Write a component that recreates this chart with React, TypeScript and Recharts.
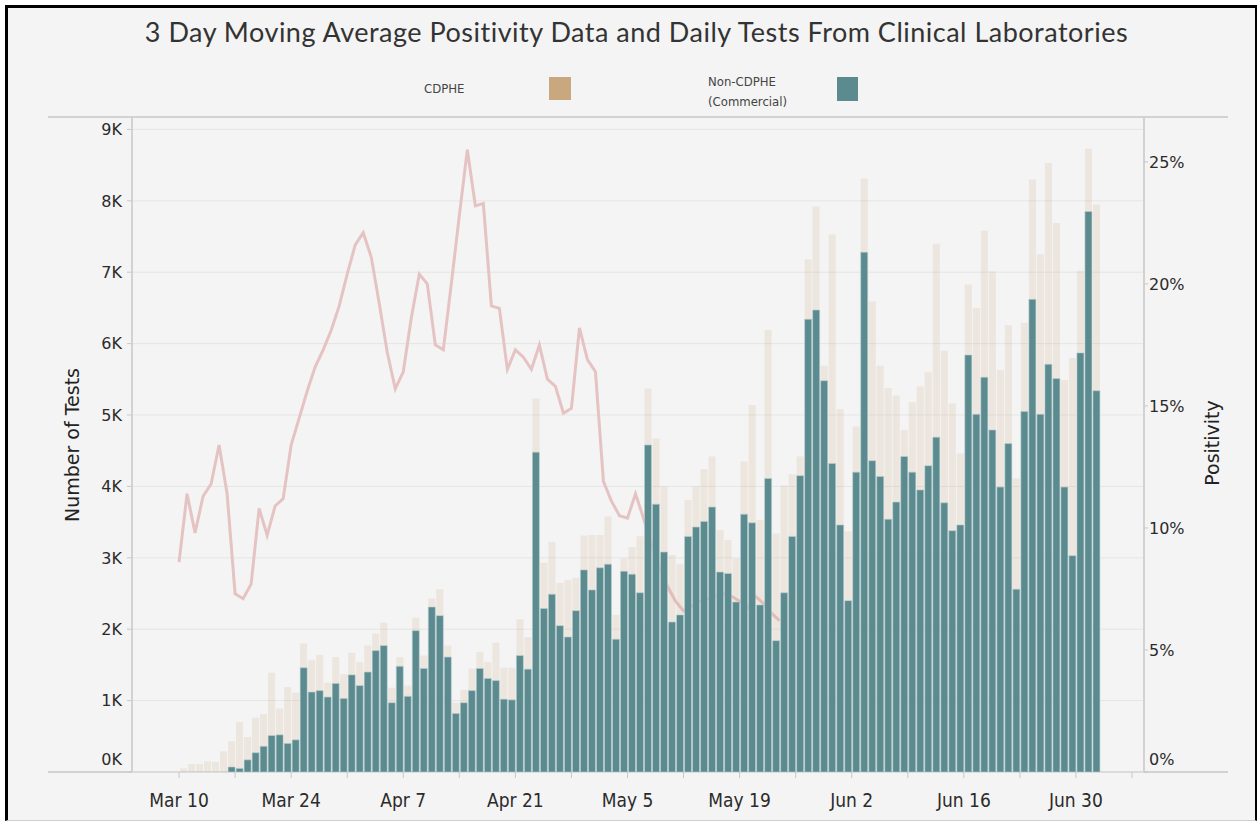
// 3 day moving average positivity + daily tests (CDPHE vs commercial labs)
// Stacked daily bars on the left axis, positivity line on the right axis.
// Line sits behind the bars, like the Tableau original.

import React from "react";
import {
  ComposedChart,
  Bar,
  Line,
  XAxis,
  YAxis,
  CartesianGrid,
} from "recharts";

// first day of the series is Mar 10 (day 0)
const START_MONTH = 2; // March (0-based)
const START_DAY = 10;

// Non-CDPHE (commercial) tests per day, Mar 10 .. Jul 2
const nonCdpheTests = [
  0, 0, 0, 0, 0, 0, 70, 50, 170, 270,
  360, 510, 520, 400, 450, 1460, 1120, 1140, 1050, 1240,
  1030, 1360, 1210, 1400, 1700, 1770, 970, 1480, 1060, 1980,
  1450, 2310, 2190, 1610, 820, 970, 1140, 1450, 1310, 1280,
  1020, 1010, 1630, 1440, 4480, 2290, 2490, 2050, 1890, 2260,
  2830, 2550, 2860, 2910, 1860, 2810, 2770, 2510, 4580, 3750,
  3080, 2100, 2200, 3300, 3430, 3510, 3710, 2800, 2780, 2380,
  3610, 3490, 2340, 4110, 1840, 2510, 3300, 4150, 6340, 6470,
  5480, 4320, 3460, 2400, 4200, 7280, 4360, 4140, 3540, 3780,
  4420, 4200, 3950, 4290, 4690, 3770, 3380, 3460, 5840, 5010,
  5530, 4790, 3990, 4600, 2560, 5050, 6620, 5010, 5710, 5510,
  3990, 3030, 5870, 7850, 5340,
];

// CDPHE tests per day (stacked on top of the commercial bar)
const cdpheTests = [
  50, 110, 110, 150, 140, 290, 360, 650, 320, 490,
  450, 880, 370, 790, 660, 340, 450, 500, 200, 370,
  340, 310, 330, 370, 240, 320, 210, 130, 150, 180,
  180, 120, 370, 160, 150, 180, 310, 230, 230, 530,
  440, 450, 510, 450, 750, 640, 730, 600, 800, 460,
  480, 770, 460, 670, 340, 180, 380, 790, 790, 920,
  920, 940, 710, 510, 570, 730, 710, 590, 470, 610,
  740, 1650, 1190, 2080, 1500, 1500, 870, 270, 840, 1450,
  210, 3210, 1620, 970, 640, 1030, 2230, 1550, 1840, 1490,
  370, 980, 1450, 1310, 2710, 2130, 1780, 1000, 990, 1490,
  2050, 2220, 1640, 1660, 1550, 1240, 1680, 2240, 2820, 2180,
  1500, 2770, 1150, 880, 2610,
];

// 3 day moving average positivity (%), readable up to ~May 25,
// after that it disappears behind the bars
const positivity = [
  8.6, 11.4, 9.8, 11.3, 11.8, 13.4, 11.4, 7.3, 7.1, 7.7,
  10.8, 9.7, 10.9, 11.2, 13.4, 14.5, 15.6, 16.6, 17.3, 18.1,
  19.1, 20.4, 21.6, 22.1, 21.1, 19.2, 17.2, 15.7, 16.4, 18.6,
  20.4, 20.0, 17.5, 17.3, 20.0, 22.8, 25.5, 23.2, 23.3, 19.1,
  19.0, 16.5, 17.3, 17.0, 16.5, 17.5, 16.1, 15.8, 14.7, 14.9,
  18.2, 16.9, 16.4, 11.9, 11.1, 10.5, 10.4, 11.4, 10.4, 9.3,
  8.4, 7.6, 7.0, 6.6, 6.8, 7.0, 7.1, 7.2, 7.3, 7.2,
  7.0, 6.7, 7.2, 6.9, 6.5, 6.2,
];

const xTickLabels = [
  "Mar 10", "Mar 24", "Apr 7", "Apr 21", "May 5",
  "May 19", "Jun 2", "Jun 16", "Jun 30",
];
const testTicks = [0, 1000, 2000, 3000, 4000, 5000, 6000, 7000, 8000, 9000];
const positivityTicks = [0, 5, 10, 15, 20, 25];

const MONTHS = ["Jan", "Feb", "Mar", "Apr", "May", "Jun", "Jul"];

const data = nonCdpheTests.map((v, i) => {
  const dt = new Date(2020, START_MONTH, START_DAY + i);
  return {
    day: i,
    date: `${MONTHS[dt.getMonth()]} ${dt.getDate()}`,
    nonCdphe: v,
    cdphe: cdpheTests[i],
    positivity: i < positivity.length ? positivity[i] : null,
  };
});

// weekly ticks, labels only every second week
const weekTicks = Array.from({ length: 18 }, (_, i) => i * 7);

const FONT = "'DejaVu Sans', Verdana, sans-serif";
const NARROW = "'Liberation Sans Narrow', 'DejaVu Sans Condensed', 'Noto Sans', sans-serif";
const TEAL = "#5b8b8f";
const TAN = "#c9a77f";
const FRAME = "#d2d2d2";

function LeftTick({ x, y, payload }: any) {
  const shift = payload.value === 0 ? -13 : 0;
  return (
    <text x={x} y={y + shift} dy="0.36em" textAnchor="end" fill="#2b2b2b" fontSize={16} fontFamily={FONT}>
      {`${payload.value / 1000}K`}
    </text>
  );
}

function RightTick({ x, y, payload }: any) {
  const shift = payload.value === 0 ? -13 : 0;
  return (
    <text x={x} y={y + shift} dy="0.36em" textAnchor="start" fill="#2b2b2b" fontSize={16} fontFamily={FONT}>
      {`${payload.value}%`}
    </text>
  );
}

// labels sit at a fixed baseline below the pane
function BottomTick({ x, payload, index }: any) {
  if (index % 2 !== 0) return null;
  return (
    <text x={x} y={807} textAnchor="middle" fill="#2b2b2b" fontSize={19} fontFamily={NARROW}>
      {xTickLabels[index / 2] ?? payload.value}
    </text>
  );
}

export default function App() {
  return (
    <div style={{ position: "absolute", left: 0, top: 0, width: 1257, height: 823, background: "#fff" }}>
      {/* outer frame */}
      <div
        style={{
          position: "absolute",
          left: 5,
          top: 5,
          width: 1252,
          height: 816,
          boxSizing: "border-box",
          borderTop: "3px solid #000",
          borderLeft: "3px solid #000",
          borderRight: "2px solid #000",
          borderBottom: "1px solid #cfcfcf",
          background: "#f4f4f4",
        }}
      />

      {/* title */}
      <div
        style={{
          position: "absolute",
          left: 8,
          top: 15,
          width: 1257,
          textAlign: "center",
          fontFamily: "Lato, 'Open Sans', sans-serif",
          fontSize: 27,
          letterSpacing: 0.5,
          color: "#333",
          whiteSpace: "nowrap",
        }}
      >
        3 Day Moving Average Positivity Data and Daily Tests From Clinical Laboratories
      </div>

      {/* legend */}
      <div style={{ position: "absolute", left: 424, top: 81, fontFamily: NARROW, fontSize: 13, color: "#444" }}>
        CDPHE
      </div>
      <div style={{ position: "absolute", left: 549, top: 77, width: 22, height: 23, background: TAN }} />
      <div
        style={{
          position: "absolute",
          left: 708,
          top: 72,
          fontFamily: NARROW,
          fontSize: 13,
          lineHeight: "20px",
          color: "#444",
        }}
      >
        Non-CDPHE
        <br />
        (Commercial)
      </div>
      <div style={{ position: "absolute", left: 837, top: 77, width: 21, height: 24, background: TEAL }} />

      {/* pane borders top / bottom */}
      <div style={{ position: "absolute", left: 48, top: 116, width: 1180, height: 2, background: FRAME }} />
      <div style={{ position: "absolute", left: 48, top: 771, width: 1180, height: 2, background: FRAME }} />

      {/* axis titles */}
      <div
        style={{
          position: "absolute",
          left: 72,
          top: 445,
          transform: "translate(-50%, -50%) rotate(-90deg)",
          whiteSpace: "nowrap",
          fontFamily: FONT,
          fontSize: 19,
          color: "#222",
        }}
      >
        Number of Tests
      </div>
      <div
        style={{
          position: "absolute",
          left: 1212,
          top: 443,
          transform: "translate(-50%, -50%) rotate(-90deg)",
          whiteSpace: "nowrap",
          fontFamily: FONT,
          fontSize: 19,
          color: "#222",
        }}
      >
        Positivity
      </div>

      <div style={{ position: "absolute", left: 0, top: 0 }}>
        <ComposedChart
          width={1257}
          height={823}
          data={data}
          margin={{ top: 117, right: 53, bottom: 11, left: 62 }}
        >
          <CartesianGrid
            xAxisId="day"
            yAxisId="tests"
            vertical={false}
            stroke="#e5e5e5"
            horizontalValues={testTicks}
          />
          {/* bars are centred half a day after the date tick */}
          <XAxis
            xAxisId="bars"
            dataKey="day"
            type="number"
            domain={[-6.375, 120]}
            allowDataOverflow
            height={0}
            hide
          />
          <XAxis
            xAxisId="day"
            dataKey="day"
            type="number"
            domain={[-5.875, 120.5]}
            allowDataOverflow
            ticks={weekTicks}
            interval={0}
            height={40}
            axisLine={false}
            tickLine={{ stroke: "#c8c8c8" }}
            tickSize={6}
            tick={<BottomTick />}
          />
          <YAxis
            yAxisId="tests"
            orientation="left"
            width={70}
            domain={[0, 9174]}
            allowDataOverflow
            ticks={testTicks}
            interval={0}
            axisLine={{ stroke: FRAME, strokeWidth: 2 }}
            tickLine={{ stroke: "#c8c8c8" }}
            tickSize={5}
            tickMargin={5}
            tick={<LeftTick />}
          />
          <YAxis
            yAxisId="pos"
            orientation="right"
            width={60}
            domain={[0, 26.84]}
            allowDataOverflow
            ticks={positivityTicks}
            interval={0}
            axisLine={{ stroke: FRAME, strokeWidth: 2 }}
            tickLine={{ stroke: "#c8c8c8" }}
            tickSize={4}
            tickMargin={1}
            tick={<RightTick />}
          />

          <Line
            xAxisId="day"
            yAxisId="pos"
            dataKey="positivity"
            type="linear"
            stroke="#e6c3c3"
            strokeWidth={3}
            dot={false}
            activeDot={false}
            isAnimationActive={false}
            zIndex={250}
          />
          <Bar
            xAxisId="bars"
            yAxisId="tests"
            dataKey="nonCdphe"
            stackId="tests"
            barSize={7}
            fill={TEAL}
            stroke="#b8cfd1"
            strokeWidth={0.6}
            isAnimationActive={false}
          />
          <Bar
            xAxisId="bars"
            yAxisId="tests"
            dataKey="cdphe"
            stackId="tests"
            barSize={7}
            fill={TAN}
            fillOpacity={0.18}
            isAnimationActive={false}
          />
        </ComposedChart>
      </div>
    </div>
  );
}
